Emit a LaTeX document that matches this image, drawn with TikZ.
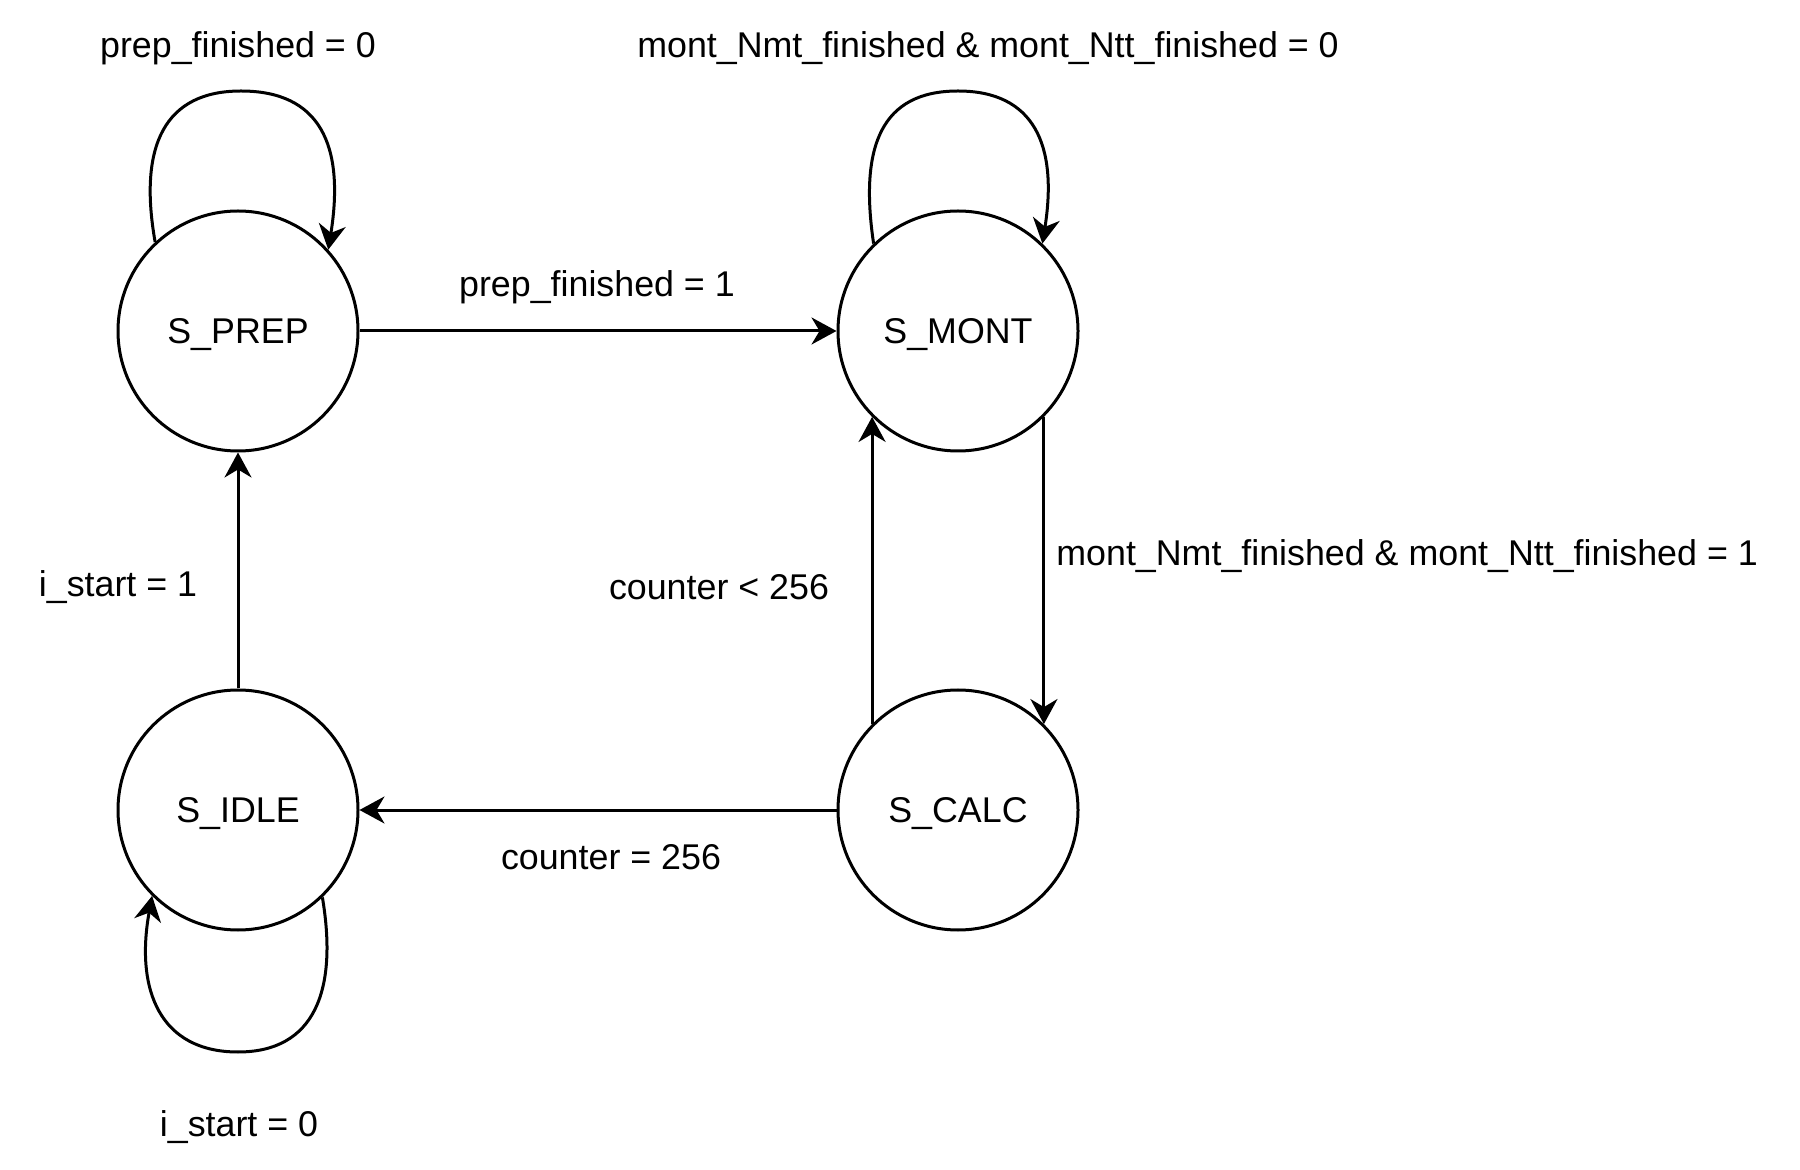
\documentclass[tikz,border=0pt]{standalone}
\usepackage{fontspec}
\setmainfont{Liberation Sans}
\usetikzlibrary{arrows.meta}
\begin{document}
\begin{tikzpicture}[x=0.5pt,y=-0.5pt,
  state/.style={circle,draw,line width=1.5pt,minimum size=120pt,inner sep=0pt,text height=12.8pt,text depth=0pt,font=\fontsize{17.9}{21}\selectfont},
  lbl/.style={font=\fontsize{17.9}{21}\selectfont,inner sep=0pt},
  edge/.style={line width=1.5pt,-{Stealth[length=12.5pt,width=13.5pt,inset=4pt]}}]
\useasboundingbox (0,0) rectangle (1800,1170);
\node[state] (prep) at (238,331) {S\_PREP};
\node[state] (mont) at (958,331) {S\_MONT};
\node[state] (calc) at (958,810) {S\_CALC};
\node[state] (idle) at (238,810) {S\_IDLE};
\coordinate (prepTop) at (241,91);
\coordinate (montTop) at (958,91);
\coordinate (idleBot) at (238,1052);
\draw[edge] (prep) -- (mont);
\draw[edge] (mont.-45) -- (calc.45);
\draw[edge] (calc.135) -- (mont.-135);
\draw[edge] (calc) -- (idle);
\draw[edge] (idle) -- (prep);
\draw[edge] (prep.133) .. controls (138,145) and (165,91) .. (prepTop) .. controls (320,91) and (345,145) .. (prep.42);
\draw[edge] (mont.134) .. controls (859,145) and (882,91) .. (montTop) .. controls (1034,91) and (1058,145) .. (mont.46);
\draw[edge] (idle.-46) .. controls (338,990) and (315,1052) .. (idleBot) .. controls (160,1052) and (135,990) .. (idle.-135);
\node[lbl] (l1) at (238,48) {prep\_finished = 0};
\node[lbl] (l2) at (988,48) {mont\_Nmt\_finished \& mont\_Ntt\_finished = 0};
\node[lbl] (l3) at (597,287) {prep\_finished = 1};
\node[lbl,anchor=west] (l4) at (1056,556) {mont\_Nmt\_finished \& mont\_Ntt\_finished = 1};
\node[lbl] (l5) at (719,587) {counter < 256};
\node[lbl] (l6) at (118,587) {i\_start = 1};
\node[lbl] (l7) at (611,857) {counter = 256};
\node[lbl] (l8) at (239,1127) {i\_start = 0};
\end{tikzpicture}
\end{document}
